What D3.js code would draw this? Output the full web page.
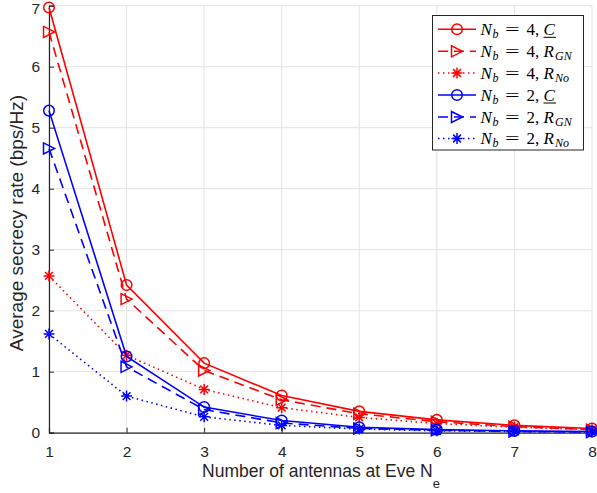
<!DOCTYPE html>
<html><head><meta charset="utf-8">
<script src="https://cdn.jsdelivr.net/npm/d3@7"></script>
<style>body{margin:0;background:#fff}svg{display:block}</style>
</head><body>
<svg id="c" width="597" height="493"></svg>
<script>
const xValues = [1,2,3,4,5,6,7,8];
const xTicks = [1,2,3,4,5,6,7,8];
const yTicks = [0,1,2,3,4,5,6,7];
const nb4C   = [6.97,2.42,1.14,0.61,0.35,0.21,0.12,0.07];
const nb4RGN = [6.57,2.19,1.02,0.54,0.31,0.18,0.10,0.05];
const nb4RNo = [2.57,1.27,0.71,0.41,0.25,0.15,0.09,0.05];
const nb2C   = [5.28,1.25,0.42,0.20,0.09,0.05,0.03,0.02];
const nb2RGN = [4.66,1.08,0.38,0.16,0.07,0.04,0.02,0.01];
const nb2RNo = [1.62,0.60,0.26,0.12,0.06,0.03,0.02,0.01];

const series = [
  {vals:nb4C,   color:"#ff0000", dash:null,  marker:"circle",   nb:"4", sym:"C"},
  {vals:nb4RGN, color:"#ff0000", dash:"10,6", marker:"triangle", nb:"4", sym:"R", sub:"GN"},
  {vals:nb4RNo, color:"#ff0000", dash:"1.5,3.5", marker:"star", nb:"4", sym:"R", sub:"No"},
  {vals:nb2C,   color:"#0000ff", dash:null,  marker:"circle",   nb:"2", sym:"C"},
  {vals:nb2RGN, color:"#0000ff", dash:"10,6", marker:"triangle", nb:"2", sym:"R", sub:"GN"},
  {vals:nb2RNo, color:"#0000ff", dash:"1.5,3.5", marker:"star", nb:"2", sym:"R", sub:"No"}
];

const svg = d3.select("#c");
const L=49, R=592, T=5.7, B=432.7;
const x = d3.scaleLinear().domain([1,8]).range([L,R]);
const y = d3.scaleLinear().domain([0,7]).range([B,T]);
const axisCol="#262626", gridCol="#e3e3e3";
const sans="'Liberation Sans',Arial,sans-serif";

// grid
const g = svg.append("g");
g.selectAll(".gx").data(xTicks).enter().append("line")
  .attr("x1",d=>x(d)).attr("x2",d=>x(d)).attr("y1",T).attr("y2",B)
  .attr("stroke",gridCol).attr("stroke-width",1);
g.selectAll(".gy").data(yTicks).enter().append("line")
  .attr("x1",L).attr("x2",R).attr("y1",d=>y(d)).attr("y2",d=>y(d))
  .attr("stroke",gridCol).attr("stroke-width",1);

// axes
const xa = svg.append("g").attr("transform",`translate(0,${B})`)
  .call(d3.axisBottom(x).tickValues(xTicks).tickSize(-5).tickPadding(10).tickFormat(d3.format("d")));
const ya = svg.append("g").attr("transform",`translate(${L},0)`)
  .call(d3.axisLeft(y).tickValues(yTicks).tickSize(-5).tickPadding(9).tickFormat(d3.format("d")));
[xa,ya].forEach(a=>{
  a.select(".domain").attr("stroke",axisCol).attr("stroke-width",1.2);
  a.selectAll(".tick line").attr("stroke",axisCol);
  a.selectAll(".tick text").attr("fill",axisCol).style("font-family",sans).style("font-size","15.5px");
});
xa.selectAll(".tick text").attr("dy","0.9em");
ya.selectAll(".tick text").attr("dy",d=>d===7?"0.5em":"0.32em");

// axis labels
const xl = svg.append("text").attr("x",321).attr("y",477).attr("text-anchor","middle")
  .attr("fill",axisCol).style("font-family",sans).style("font-size","17.5px");
xl.append("tspan").text("Number of antennas at Eve N");
xl.append("tspan").attr("dy",11).style("font-size","13px").text("e");
svg.append("text").attr("transform","translate(23,223) rotate(-90)").attr("text-anchor","middle")
  .attr("fill",axisCol).style("font-family",sans).style("font-size","19px")
  .text("Average secrecy rate (bps/Hz)");

function drawMarker(sel, type, color, cx, cy){
  if(type==="circle"){
    sel.append("circle").attr("cx",cx).attr("cy",cy).attr("r",5.3)
      .attr("fill","none").attr("stroke",color).attr("stroke-width",1.5);
  } else if(type==="triangle"){
    const s=5.5;
    sel.append("path").attr("d",`M${cx+s},${cy} L${cx-s},${cy-s} L${cx-s},${cy+s} Z`)
      .attr("fill","none").attr("stroke",color).attr("stroke-width",1.5);
  } else {
    const s=5.5, d=s*0.7071;
    sel.append("path").attr("d",`M${cx-s},${cy}L${cx+s},${cy}M${cx},${cy-s}L${cx},${cy+s}M${cx-d},${cy-d}L${cx+d},${cy+d}M${cx-d},${cy+d}L${cx+d},${cy-d}`)
      .attr("fill","none").attr("stroke",color).attr("stroke-width",1.5);
  }
}

const line = d3.line().x((d,i)=>x(xValues[i])).y(d=>y(d));
series.forEach(s=>{
  const sg = svg.append("g");
  sg.append("path").datum(s.vals).attr("d",line).attr("fill","none")
    .attr("stroke",s.color).attr("stroke-width",1.6).attr("stroke-dasharray",s.dash);
  s.vals.forEach((v,i)=>drawMarker(sg,s.marker,s.color,x(xValues[i]),y(v)));
});

// legend
const lg = svg.append("g");
lg.append("rect").attr("x",432.5).attr("y",15.5).attr("width",151).attr("height",134.5)
  .attr("fill","#fff").attr("stroke","#262626").attr("stroke-width",1);
const rowY = [29.3,51.3,73,95,117,138.5];
const serif="'Liberation Serif','Times New Roman',serif";
series.forEach((s,i)=>{
  const cy=rowY[i], by=cy+5.5;
  lg.append("line").attr("x1",438).attr("x2",476).attr("y1",cy).attr("y2",cy)
    .attr("stroke",s.color).attr("stroke-width",1.6).attr("stroke-dasharray",s.dash);
  drawMarker(lg,s.marker,s.color,457,cy);
  const tx = (xx,yy,txt,size,ital)=>lg.append("text").attr("x",xx).attr("y",yy)
    .style("font-family",serif).style("font-size",size+"px").style("font-style",ital?"italic":"normal")
    .attr("fill","#000").text(txt);
  tx(480.5,by,"N",17,true);
  tx(492.5,by+3,"b",12,true);
  tx(505,by,"=",17,false).attr("textLength",14.5).attr("lengthAdjust","spacingAndGlyphs");
  tx(526.5,by,s.nb+",",17,false);
  if(s.sub){
    tx(543.5,by,s.sym,17,true);
    tx(555,by+3,s.sub,12,true);
  } else {
    tx(543.5,by,s.sym,17,true);
    lg.append("line").attr("x1",543.5).attr("x2",556).attr("y1",by+2.5).attr("y2",by+2.5)
      .attr("stroke","#000").attr("stroke-width",1);
  }
});
</script>
</body></html>
